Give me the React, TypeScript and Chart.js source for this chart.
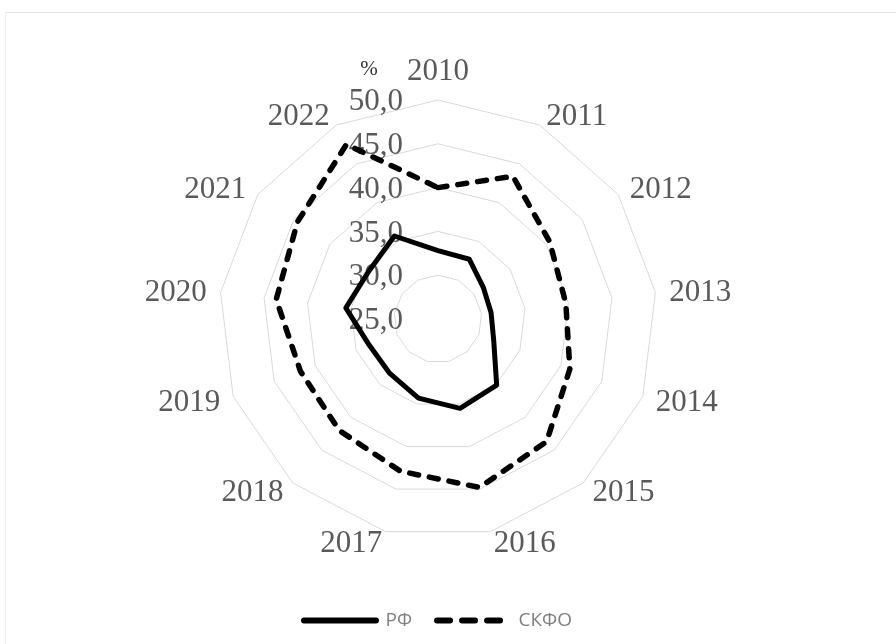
import React, { useEffect, useRef } from 'react';
import { Chart, registerables } from 'chart.js';

Chart.register(...registerables);

const years = ['2010', '2011', '2012', '2013', '2014', '2015', '2016', '2017', '2018', '2019', '2020', '2021', '2022'];
const rfValues = [32.8, 32.7, 31.3, 31.1, 31.8, 35.1, 35.5, 34.3, 33.3, 33.4, 35.6, 34.6, 35.7];
const skfoValues = [40.0, 43.4, 40.5, 39.7, 41.1, 43.7, 44.8, 42.9, 42.0, 41.8, 43.6, 44.5, 47.5];
const seriesNames = ['РФ', 'СКФО'];
const scaleMin = 25;
const scaleMax = 50;
const scaleStep = 5;
const unitLabel = '%';

const formatTick = (v: number) => v.toFixed(1).replace('.', ',');
const serif = '"Liberation Serif", "Times New Roman", serif';

export default function App() {
  const ref = useRef<HTMLCanvasElement>(null);

  useEffect(() => {
    if (!ref.current) return;

    const textPlugin = {
      id: 'excelText',
      beforeDatasetsDraw(chart: any) {
        const scale = chart.scales.r;
        const ctx = chart.ctx;
        const dy = 2;
        ctx.save();
        // tick labels, left of the first axis
        ctx.font = `31px ${serif}`;
        ctx.fillStyle = '#595959';
        ctx.textAlign = 'right';
        ctx.textBaseline = 'middle';
        const tx = scale.xCenter - 35;
        scale.ticks.forEach((t: any) => {
          const d = scale.getDistanceFromCenterForValue(t.value);
          ctx.fillText(formatTick(t.value), tx, scale.yCenter - d + dy);
        });
        // unit label
        ctx.font = `21px ${serif}`;
        ctx.textAlign = 'center';
        ctx.fillStyle = '#333333';
        const top = scale.getDistanceFromCenterForValue(scaleMax);
        ctx.fillText(unitLabel, scale.xCenter - 69, scale.yCenter - top - 31);
        // category labels
        ctx.font = `31px ${serif}`;
        ctx.fillStyle = '#595959';
        const labels = chart.data.labels as string[];
        labels.forEach((lab, i) => {
          const a = scale.getIndexAngle(i);
          const s = Math.sin(a);
          const c = Math.cos(a);
          const p = scale.getPointPosition(i, scale.drawingArea);
          let x = p.x;
          let y = p.y;
          if (Math.abs(s) < 0.05) {
            ctx.textAlign = 'center';
            y = p.y - c * 30;
          } else {
            ctx.textAlign = s > 0 ? 'left' : 'right';
            x = p.x + 14 * s;
            y = p.y - 11 * c;
          }
          ctx.fillText(lab, x, y + dy);
        });
        ctx.restore();
      },
    };

    const chart = new Chart(ref.current, {
      type: 'radar',
      data: {
        labels: years,
        datasets: [
          {
            label: seriesNames[0],
            data: rfValues,
            borderColor: '#000000',
            backgroundColor: 'transparent',
            borderWidth: 5,
            borderJoinStyle: 'round',
            borderCapStyle: 'round',
            pointRadius: 0,
            pointHoverRadius: 0,
            fill: false,
            tension: 0,
          },
          {
            label: seriesNames[1],
            data: skfoValues,
            borderColor: '#000000',
            backgroundColor: 'transparent',
            borderWidth: 5.5,
            borderDash: [9, 11],
            borderJoinStyle: 'round',
            borderCapStyle: 'round',
            pointRadius: 0,
            pointHoverRadius: 0,
            fill: false,
            tension: 0,
          },
        ],
      },
      options: {
        responsive: true,
        maintainAspectRatio: false,
        animation: false,
        layout: { padding: { top: 52, bottom: 4, left: 219, right: 239 } },
        scales: {
          r: {
            min: scaleMin,
            max: scaleMax,
            ticks: { stepSize: scaleStep, display: false },
            angleLines: { display: false },
            grid: { color: '#d9d9d9', lineWidth: 1, circular: false },
            pointLabels: { display: false },
          },
        },
        plugins: {
          tooltip: { enabled: false },
          legend: {
            position: 'bottom',
            labels: {
              usePointStyle: true,
              pointStyleWidth: 72,
              padding: 25,
              color: '#7f7f7f',
              font: { family: '"Open Sans", sans-serif', size: 19 },
              generateLabels: () => [
                {
                  text: seriesNames[0],
                  fillStyle: '#000000',
                  strokeStyle: '#000000',
                  lineWidth: 6,
                  lineCap: 'round',
                  lineDash: [],
                  pointStyle: 'line',
                  datasetIndex: 0,
                  fontColor: '#7f7f7f',
                },
                {
                  text: seriesNames[1],
                  fillStyle: '#000000',
                  strokeStyle: '#000000',
                  lineWidth: 6,
                  lineCap: 'round',
                  lineDash: [13, 12],
                  pointStyle: 'line',
                  datasetIndex: 1,
                  fontColor: '#7f7f7f',
                },
              ],
            },
          },
        },
      } as any,
      plugins: [textPlugin],
    });

    return () => chart.destroy();
  }, []);

  return (
    <div style={{ position: 'fixed', left: 0, top: 0, width: 896, height: 644, background: '#ffffff' }}>
      <div
        style={{
          position: 'absolute',
          left: 5,
          top: 12,
          right: 0,
          bottom: 0,
          borderTop: '1px solid #e6e6e6',
          borderLeft: '1px solid #f0f0f0',
        }}
      />
      <div style={{ position: 'absolute', left: 0, top: 0, width: 896, height: 644 }}>
        <canvas ref={ref} />
      </div>
    </div>
  );
}
